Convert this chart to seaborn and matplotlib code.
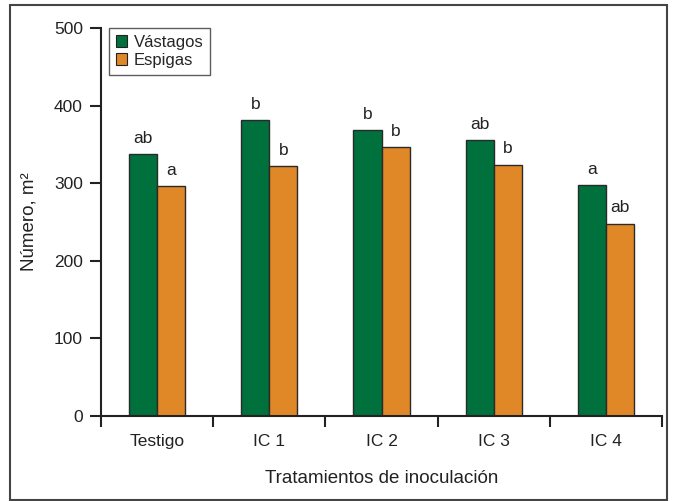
import matplotlib
matplotlib.use("Agg")
import matplotlib.pyplot as plt
import seaborn as sns
import pandas as pd
from matplotlib.patches import Rectangle

# Data
treatments = ["Testigo", "IC 1", "IC 2", "IC 3", "IC 4"]
vastagos = [338, 381, 368, 355, 297]
espigas = [296, 322, 346, 324, 248]
letters_vastagos = ["ab", "b", "b", "ab", "a"]
letters_espigas = ["a", "b", "b", "b", "ab"]
series_names = ["Vástagos", "Espigas"]
colors = ["#00703C", "#E08828"]

df = pd.DataFrame({
    "Tratamiento": treatments * 2,
    "Valor": vastagos + espigas,
    "Serie": [series_names[0]] * len(treatments) + [series_names[1]] * len(treatments),
})

sns.set_style("white")
plt.rcParams["font.family"] = ["Liberation Sans", "DejaVu Sans"]
plt.rcParams["font.size"] = 12.5

fig = plt.figure(figsize=(6.73, 5.01), dpi=100)
ax = fig.add_axes([0.1501, 0.1697, 0.8336, 0.7745])

sns.barplot(data=df, x="Tratamiento", y="Valor", hue="Serie",
            palette=colors, width=0.5, edgecolor="#2a2a2a", linewidth=1.0,
            saturation=1, ax=ax, errorbar=None)

# Significance letters above each bar
n = len(treatments)
for i, cont in enumerate(ax.containers):
    labs = letters_vastagos if i == 0 else letters_espigas
    for bar, lab in zip(cont, labs):
        ax.annotate(lab, (bar.get_x() + bar.get_width() / 2, bar.get_height()),
                    xytext=(0, 8), textcoords="offset points",
                    ha="center", va="baseline", fontsize=12.5, color="#222222")

ax.set_xlim(-0.5, n - 0.5)
ax.set_ylim(0, 500)
ax.set_yticks([0, 100, 200, 300, 400, 500])
ax.set_xticks(range(n))
ax.set_xticklabels(treatments)
ax.set_xticks([i - 0.5 for i in range(n + 1)], minor=True)
ax.tick_params(axis="x", which="major", length=0, pad=13, labelsize=12.5, colors="#222222")
ax.tick_params(axis="x", which="minor", length=8, width=1.5, color="#222222",
               direction="out", bottom=True)
ax.tick_params(axis="y", length=8, width=1.5, color="#222222", direction="out",
               labelsize=12.5, labelcolor="#222222", left=True, pad=5)

for s in ["top", "right"]:
    ax.spines[s].set_visible(False)
for s in ["left", "bottom"]:
    ax.spines[s].set_color("#222222")
    ax.spines[s].set_linewidth(1.5)

ax.set_xlabel("Tratamientos de inoculación", fontsize=13.5, color="#222222", labelpad=15)
ax.set_ylabel("Número, m²", fontsize=13.5, color="#222222", labelpad=12)

leg = ax.legend(loc="upper left", bbox_to_anchor=(0.014, 1.0), frameon=True,
                fancybox=False, fontsize=12, handlelength=0.7, handleheight=0.7,
                handletextpad=0.4, borderpad=0.4, labelspacing=0.2, borderaxespad=0)
leg.get_frame().set_edgecolor("#333333")
leg.get_frame().set_linewidth(1.0)
for h in leg.legend_handles:
    h.set_edgecolor("#222222")
    h.set_linewidth(0.8)

# Outer frame around the whole figure
fig.patches.append(Rectangle((10 / 673, 0.002), 657 / 673, 1 - 5 / 501 - 0.002,
                             transform=fig.transFigure, fill=False,
                             edgecolor="#444444", linewidth=1.5))

fig.savefig("out.png", dpi=100)
